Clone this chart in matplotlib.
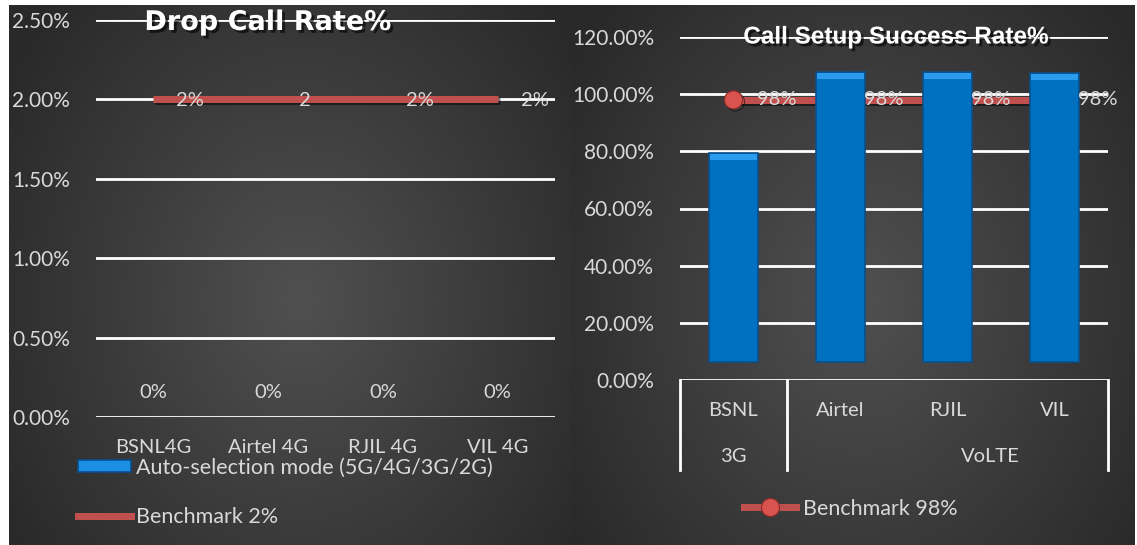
import numpy as np
import matplotlib
matplotlib.use('Agg')
import matplotlib.pyplot as plt
from matplotlib.patches import Patch
from matplotlib.lines import Line2D
import matplotlib.patheffects as pe
import matplotlib.transforms as mtrans

# ---------------- data ----------------
dcr_categories = ['BSNL4G', 'Airtel 4G', 'RJIL 4G', 'VIL 4G']
dcr_auto = [0, 0, 0, 0]
dcr_auto_labels = ['0%', '0%', '0%', '0%']
dcr_benchmark = [2, 2, 2, 2]
dcr_benchmark_labels = ['2%', '2', '2%', '2%']
dcr_yticks = [0, 0.5, 1.0, 1.5, 2.0, 2.5]

cssr_operators = ['BSNL', 'Airtel', 'RJIL', 'VIL']
cssr_groups = ['3G', 'VoLTE']
cssr_group_pos = [0, 2.4]
cssr_group_dividers = [-0.5, 0.5, 3.5]
cssr_auto_top = [79.4, 107.8, 107.8, 107.4]
cssr_auto_base = 6.3
cssr_benchmark = [98, 98, 98, 98]
cssr_benchmark_labels = ['98%', '98%', '98%', '98%']
cssr_yticks = [0, 20, 40, 60, 80, 100, 120]

# ---------------- layout ----------------
W, H = 1137, 545
fig = plt.figure(figsize=(W / 100, H / 100), dpi=100, facecolor='white')
PT = 72 / 100.0  # points per pixel


def fx(px):
    return px / W


def fy(py):
    return 1 - py / H


LABEL_FONT = ['Lato', 'DejaVu Sans']
TXT = '#d9d9d9'
RED = '#C0504D'
BLUE = '#0070C0'
TICK_FS = 15
LBL_FS = 14.5
LEG_FS = 15.5

# background with radial gradients
bg = fig.add_axes([0, 0, 1, 1], zorder=-10)
bg.set_xlim(0, W)
bg.set_ylim(H, 0)
bg.axis('off')


def radial(x0, x1, y0, y1, cx, cy):
    xs = np.linspace(x0, x1, 400)
    ys = np.linspace(y0, y1, 200)
    X, Y = np.meshgrid(xs, ys)
    r = np.sqrt(((X - cx) / ((x1 - x0) * 0.62)) ** 2 + ((Y - cy) / ((y1 - y0) * 0.8)) ** 2)
    r = np.clip(r, 0, 1)
    c_in = np.array([0x50, 0x50, 0x50]) / 255
    c_out = np.array([0x29, 0x29, 0x29]) / 255
    img = c_in + (c_out - c_in) * r[..., None]
    bg.imshow(img, extent=(x0, x1, y1, y0), aspect='auto', interpolation='bilinear')


radial(9, 571, 5, H, 300, 300)
radial(571, 1135, 5, H, 860, 300)

shadow = [pe.SimplePatchShadow(offset=(2, -2), shadow_rgbFace='black', alpha=0.6), pe.Normal()]

# ---------------- left chart: Drop Call Rate ----------------
ax1 = fig.add_axes([fx(96), fy(417), fx(555) - fx(96), fy(20) - fy(417)])
ax1.patch.set_alpha(0)
x1 = np.arange(len(dcr_categories))
ax1.set_xlim(-0.5, 3.5)
ax1.set_ylim(0, 2.5)
ax1.set_yticks(dcr_yticks)
ax1.set_yticklabels([f'{v:.2f}%' for v in dcr_yticks])
ax1.set_xticks(x1)
ax1.set_xticklabels(dcr_categories)
ax1.grid(axis='y', color='white', lw=2)
ax1.set_axisbelow(True)
for s in ax1.spines.values():
    s.set_visible(False)
ax1.tick_params(axis='y', length=0, colors=TXT, labelsize=TICK_FS, pad=26 * PT)
ax1.tick_params(axis='x', length=0, colors=TXT, labelsize=LBL_FS, pad=22 * PT)
for lab in ax1.get_xticklabels() + ax1.get_yticklabels():
    lab.set_family(LABEL_FONT)

ax1.bar(x1, dcr_auto, width=0.45, color=BLUE, lw=0)
for xi, v, t in zip(x1, dcr_auto, dcr_auto_labels):
    ax1.annotate(t, (xi, v), xytext=(0, 25 * PT), textcoords='offset points',
                 ha='center', va='center', color=TXT, fontsize=LBL_FS, family=LABEL_FONT)
ax1.plot(x1, dcr_benchmark, color=RED, lw=7 * PT, solid_capstyle='butt',
         path_effects=[pe.SimpleLineShadow(offset=(1.5, -1.5), alpha=0.5), pe.Normal()], zorder=3)
for xi, v, t in zip(x1, dcr_benchmark, dcr_benchmark_labels):
    ax1.annotate(t, (xi, v), xytext=(37 * PT, -1 * PT), textcoords='offset points',
                 ha='center', va='center', color=TXT, fontsize=LBL_FS, family=LABEL_FONT, zorder=5)

fig.text(fx(268), fy(23), 'Drop Call Rate%', ha='center', va='center', color='white',
         fontsize=19.5, fontweight='bold', family='DejaVu Sans', path_effects=shadow)

h_auto = Patch(facecolor='#1a8fe3', edgecolor='#0a4f8f', lw=1.2)
h_bm2 = Line2D([], [], color=RED, lw=7 * PT)
fig.legend([h_auto, h_bm2], ['Auto-selection mode (5G/4G/3G/2G)', 'Benchmark 2%'],
           loc='upper left', bbox_to_anchor=(fx(78), fy(458)), frameon=False,
           prop={'family': LABEL_FONT, 'size': LEG_FS}, labelcolor=TXT,
           handlelength=2.45, handleheight=0.5, handletextpad=0.25, labelspacing=1.35,
           borderpad=0, borderaxespad=0)

# ---------------- right chart: Call Setup Success Rate ----------------
ax2 = fig.add_axes([fx(680), fy(380), fx(1108) - fx(680), fy(37) - fy(380)])
ax2.patch.set_alpha(0)
x2 = np.arange(len(cssr_operators))
ax2.set_xlim(-0.5, 3.5)
ax2.set_ylim(0, 120)
ax2.set_yticks(cssr_yticks)
ax2.set_yticklabels([f'{v:.2f}%' for v in cssr_yticks])
ax2.set_xticks([])
ax2.grid(axis='y', color='white', lw=2)
ax2.set_axisbelow(True)
for s in ax2.spines.values():
    s.set_visible(False)
ax2.tick_params(axis='y', length=0, colors=TXT, labelsize=TICK_FS, pad=26 * PT)
for lab in ax2.get_yticklabels():
    lab.set_family(LABEL_FONT)

heights = [t - cssr_auto_base for t in cssr_auto_top]
ax2.bar(x2, heights, bottom=cssr_auto_base, width=0.46, color=BLUE, edgecolor='#0b4f8a',
        lw=1.2, zorder=4)
# bevel highlight on bar tops
ax2.bar(x2, [2.0] * 4, bottom=[t - 2.4 for t in cssr_auto_top], width=0.43,
        color='#2a9bef', lw=0, zorder=4.5)

ax2.plot(x2, cssr_benchmark, color=RED, lw=7 * PT, solid_capstyle='butt', zorder=3,
         marker='o', markevery=[0], markersize=13, markerfacecolor='#d9534f',
         markeredgecolor='#8c2b28', markeredgewidth=0.8,
         path_effects=[pe.SimpleLineShadow(offset=(1.5, -1.5), alpha=0.5), pe.Normal()])
for xi, v, t in zip(x2, cssr_benchmark, cssr_benchmark_labels):
    ax2.annotate(t, (xi, v), xytext=(43 * PT, 0), textcoords='offset points',
                 ha='center', va='center', color=TXT, fontsize=LBL_FS, family=LABEL_FONT, zorder=6)

# grouped category axis
trans = mtrans.blended_transform_factory(ax2.transData, ax2.transAxes)
bottom = -(470 - 380) / 343
for xd in cssr_group_dividers:
    ax2.plot([xd, xd], [0, bottom], transform=trans, color='white', lw=2, clip_on=False)
for xi, t in zip(x2, cssr_operators):
    ax2.text(xi, -(410 - 380) / 343, t, transform=trans, ha='center', va='center',
             color=TXT, fontsize=LBL_FS, family=LABEL_FONT)
for xp, t in zip(cssr_group_pos, cssr_groups):
    ax2.text(xp, -(457 - 380) / 343, t, transform=trans, ha='center', va='center',
             color=TXT, fontsize=LBL_FS, family=LABEL_FONT)

fig.text(fx(896), fy(37), 'Call Setup Success Rate%', ha='center', va='center', color='white',
         fontsize=17.5, fontweight='bold', family=['Liberation Sans', 'DejaVu Sans'],
         path_effects=shadow)

h_bm98 = Line2D([], [], color=RED, lw=7 * PT, marker='o', markersize=13,
                markerfacecolor='#d9534f', markeredgecolor='#8c2b28', markeredgewidth=0.8)
fig.legend([h_bm98], ['Benchmark 98%'], loc='center left',
           bbox_to_anchor=(fx(744), fy(509)), frameon=False,
           prop={'family': LABEL_FONT, 'size': LEG_FS}, labelcolor=TXT,
           handlelength=2.4, handletextpad=0.35, borderpad=0, borderaxespad=0)

fig.savefig('out.png', dpi=100, facecolor='white')
